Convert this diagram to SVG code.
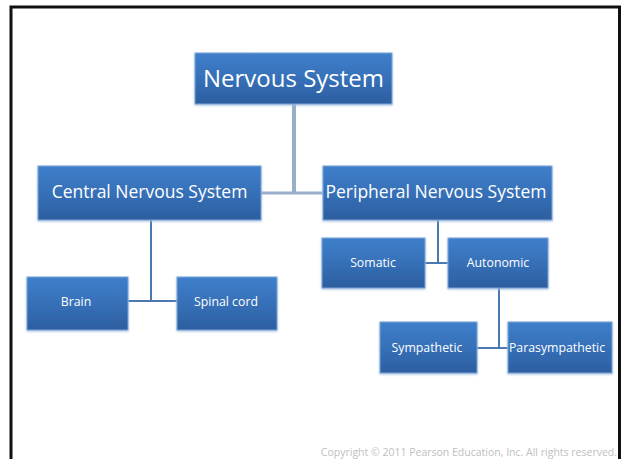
<svg xmlns="http://www.w3.org/2000/svg" width="621" height="459" viewBox="0 0 621 459">
<defs>
<linearGradient id="g" x1="0" y1="0" x2="0" y2="1">
<stop offset="0" stop-color="#3F7FCB"/>
<stop offset="0.5" stop-color="#3670B8"/>
<stop offset="1" stop-color="#2C5E9F"/>
</linearGradient>
<filter id="glow" x="-10%" y="-10%" width="120%" height="130%">
<feDropShadow dx="0" dy="1" stdDeviation="1.2" flood-color="#9FBADF" flood-opacity="0.9"/>
</filter>
</defs>
<style>
.box{fill:url(#g);stroke:#7FA6D8;stroke-width:1;filter:url(#glow)}
.t{fill:#fff;font-family:"Open Sans","Liberation Sans",sans-serif;text-anchor:middle;dominant-baseline:central}
.big{font-size:24px}
.mid{font-size:17.5px}
.sm{font-size:12.3px}
.c1{stroke:#98AFCB;stroke-width:4;fill:none}
.c2{stroke:#4A78B0;stroke-width:2;fill:none}
</style>
<rect x="0" y="0" width="621" height="459" fill="#fff"/>
<rect x="11" y="7" width="608.5" height="470" fill="none" stroke="#111" stroke-width="3"/>
<g id="connectors">
<path class="c1" d="M294,104 V193"/>
<path class="c1" d="M261,193 H323" style="stroke-width:3"/>
<path class="c2" d="M151,220 V301 M128,301 H177"/>
<path class="c2" d="M438,220 V263 M425,263 H448"/>
<path class="c2" d="M499,288 V348 M477,348 H508"/>
</g>
<g id="nervous-system"><rect class="box" x="195" y="53" width="197" height="51"/><text class="t big" x="293.5" y="77">Nervous System</text></g>
<g id="cns"><rect class="box" x="38" y="166" width="223" height="54"/><text class="t mid" x="149.5" y="191">Central Nervous System</text></g>
<g id="pns"><rect class="box" x="323" y="166" width="229" height="54"/><text class="t mid" x="436" y="191">Peripheral Nervous System</text></g>
<g id="brain"><rect class="box" x="27" y="277" width="101" height="53"/><text class="t sm" x="76" y="301">Brain</text></g>
<g id="spinal-cord"><rect class="box" x="177" y="277" width="100" height="53"/><text class="t sm" x="226" y="301">Spinal cord</text></g>
<g id="somatic"><rect class="box" x="322" y="238" width="103" height="50"/><text class="t sm" x="373" y="262">Somatic</text></g>
<g id="autonomic"><rect class="box" x="448" y="238" width="100" height="50"/><text class="t sm" x="498" y="262">Autonomic</text></g>
<g id="sympathetic"><rect class="box" x="380" y="322" width="97" height="51"/><text class="t sm" x="427" y="347">Sympathetic</text></g>
<g id="parasympathetic"><rect class="box" x="508" y="322" width="104" height="51"/><text class="t sm" x="557" y="347">Parasympathetic</text></g>
<text x="617" y="456" font-family="'Open Sans','Liberation Sans',sans-serif" font-size="10.5" fill="#C0C0C0" text-anchor="end">Copyright © 2011 Pearson Education, Inc. All rights reserved.</text>
</svg>
